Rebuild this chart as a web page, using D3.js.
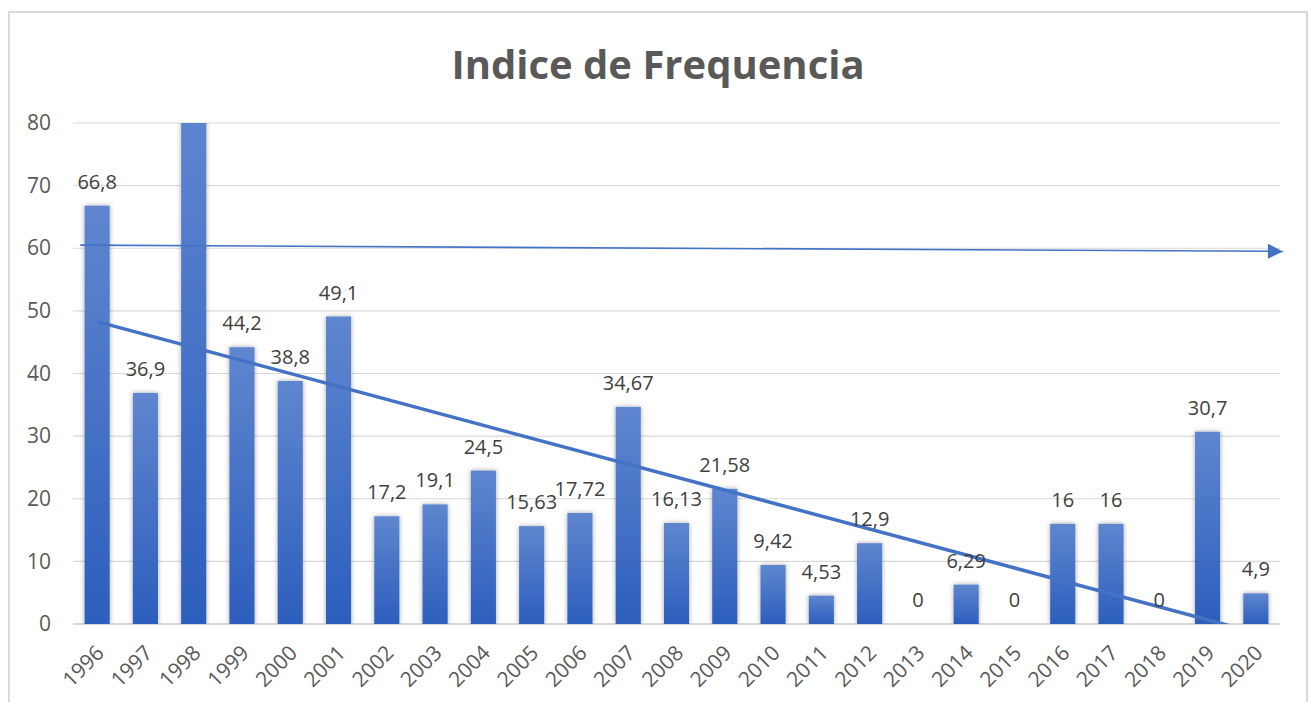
<!DOCTYPE html>
<html>
<head>
<meta charset="utf-8">
<script src="https://cdn.jsdelivr.net/npm/d3@7"></script>
<style>
  html, body { margin: 0; padding: 0; background: #fff; }
  svg { display: block; }
</style>
</head>
<body>
<div id="chart"></div>
<script>
// data (1998 is cut off at the top of the axis; value estimated)
var years = ['1996', '1997', '1998', '1999', '2000', '2001', '2002', '2003', '2004', '2005',
  '2006', '2007', '2008', '2009', '2010', '2011', '2012', '2013', '2014', '2015',
  '2016', '2017', '2018', '2019', '2020'];
var values = [66.8, 36.9, 83, 44.2, 38.8, 49.1, 17.2, 19.1, 24.5, 15.63,
  17.72, 34.67, 16.13, 21.58, 9.42, 4.53, 12.9, 0, 6.29, 0,
  16, 16, 0, 30.7, 4.9];
var yTicks = [0, 10, 20, 30, 40, 50, 60, 70, 80];
// hand-drawn arrow, in category index / value units
var arrowIdx = [0.15, 25.06];
var arrowVal = [60.5, 59.5];

var width = 1311;
var height = 702;
var margin = { top: 123, right: 31, bottom: 78, left: 73 };
var graphWidth = width - margin.left - margin.right;
var graphHeight = height - margin.top - margin.bottom;

var data = years.map(function(d, i) {
  return { key: d, val: values[i] };
});

var svg = d3
  .select('#chart')
  .append('svg')
  .attr('width', width)
  .attr('height', height)
  .attr('font-family', "'Open Sans', sans-serif");

var defs = svg.append('defs');

var grad = defs
  .append('linearGradient')
  .attr('id', 'barGrad')
  .attr('x1', 0)
  .attr('y1', 0)
  .attr('x2', 0)
  .attr('y2', 1);
grad.append('stop').attr('offset', '0%').attr('stop-color', '#5f86cf');
grad.append('stop').attr('offset', '100%').attr('stop-color', '#2c5ebd');

var shadow = defs
  .append('filter')
  .attr('id', 'barShadow')
  .attr('x', '-60%')
  .attr('y', '-10%')
  .attr('width', '220%')
  .attr('height', '120%');
shadow
  .append('feDropShadow')
  .attr('dx', 0)
  .attr('dy', 0)
  .attr('stdDeviation', 2.5)
  .attr('flood-color', '#000')
  .attr('flood-opacity', 0.35);

defs
  .append('clipPath')
  .attr('id', 'plotClip')
  .append('rect')
  .attr('x', 0)
  .attr('y', 0)
  .attr('width', graphWidth)
  .attr('height', graphHeight);

defs
  .append('marker')
  .attr('id', 'arrowHead')
  .attr('viewBox', '0 0 10 10')
  .attr('refX', 10)
  .attr('refY', 5)
  .attr('markerWidth', 16)
  .attr('markerHeight', 15)
  .attr('markerUnits', 'userSpaceOnUse')
  .attr('orient', 'auto')
  .append('path')
  .attr('d', 'M0,0L10,5L0,10Z')
  .attr('fill', '#4472c4');

// chart frame
svg
  .append('rect')
  .attr('x', 9)
  .attr('y', 12)
  .attr('width', 1298)
  .attr('height', 720)
  .attr('fill', 'none')
  .attr('stroke', '#d9d9d9')
  .attr('stroke-width', 2);

svg
  .append('text')
  .attr('x', 658)
  .attr('y', 79)
  .attr('text-anchor', 'middle')
  .attr('font-size', '40px')
  .attr('font-weight', 'bold')
  .attr('fill', '#595959')
  .text('Indice de Frequencia');

var chart = svg
  .append('g')
  .attr('transform', 'translate(' + margin.left + ',' + margin.top + ')');

var x = d3
  .scaleBand()
  .domain(years)
  .range([0, graphWidth])
  .paddingInner(0.48)
  .paddingOuter(0.24);
var xIdx = d3.scaleLinear().domain([0, years.length]).range([0, graphWidth]);
var y = d3.scaleLinear().domain([0, 80]).range([graphHeight, 0]);

// gridlines
chart
  .append('g')
  .attr('class', 'grid')
  .selectAll('line')
  .data(yTicks)
  .enter()
  .append('line')
  .attr('x1', 0)
  .attr('x2', graphWidth)
  .attr('y1', function(d) {
    return y(d);
  })
  .attr('y2', function(d) {
    return y(d);
  })
  .attr('stroke', '#d9d9d9')
  .attr('stroke-width', function(d) {
    return d === 0 ? 2 : 1.2;
  });

var yAxis = d3
  .axisLeft(y)
  .tickValues(yTicks)
  .tickSize(0)
  .tickPadding(22);
var yG = chart.append('g').attr('class', 'y axis').call(yAxis);
yG.select('.domain').remove();
yG.selectAll('text')
  .attr('font-size', '21px')
  .attr('font-family', "'Open Sans', sans-serif")
  .attr('fill', '#595959');

var xAxis = d3.axisBottom(x).tickSize(0).tickPadding(0);
var xG = chart
  .append('g')
  .attr('class', 'x axis')
  .attr('transform', 'translate(0,' + graphHeight + ')')
  .call(xAxis);
xG.select('.domain').remove();
xG.selectAll('text')
  .attr('font-size', '21px')
  .attr('font-family', "'Open Sans', sans-serif")
  .attr('fill', '#595959')
  .attr('text-anchor', 'end')
  .attr('dy', '0.35em')
  .attr('transform', 'translate(3,25) rotate(-45)');

// bars
var plot = chart.append('g').attr('clip-path', 'url(#plotClip)');
plot
  .append('g')
  .attr('class', 'bars')
  .selectAll('rect')
  .data(data.filter(function(d) {
    return d.val > 0;
  }))
  .enter()
  .append('rect')
  .attr('x', function(d) {
    return x(d.key);
  })
  .attr('width', x.bandwidth())
  .attr('y', function(d) {
    return y(d.val);
  })
  .attr('height', function(d) {
    return graphHeight - y(d.val);
  })
  .attr('fill', 'url(#barGrad)')
  .attr('filter', 'url(#barShadow)');

// linear trendline over the series
var n = values.length;
var mx = d3.mean(values, function(d, i) {
  return i + 1;
});
var my = d3.mean(values);
var sxy = d3.sum(values, function(d, i) {
  return (i + 1 - mx) * (d - my);
});
var sxx = d3.sum(values, function(d, i) {
  return (i + 1 - mx) * (i + 1 - mx);
});
var slope = sxy / sxx;
var icpt = my - slope * mx;
var trend = [1, n].map(function(i) {
  return { x: xIdx(i - 0.5), y: y(icpt + slope * i) };
});
plot
  .append('path')
  .datum(trend)
  .attr('d', d3.line().x(function(d) {
    return d.x;
  }).y(function(d) {
    return d.y;
  }))
  .attr('fill', 'none')
  .attr('stroke', '#4472c4')
  .attr('stroke-width', 3.5);

// data labels (the clipped 1998 bar shows none)
chart
  .append('g')
  .attr('class', 'labels')
  .selectAll('text')
  .data(data.filter(function(d) {
    return d.val <= 80;
  }))
  .enter()
  .append('text')
  .attr('x', function(d) {
    return x(d.key) + x.bandwidth() / 2;
  })
  .attr('y', function(d) {
    return y(d.val) - 17;
  })
  .attr('text-anchor', 'middle')
  .attr('font-size', '20px')
  .attr('fill', '#404040')
  .text(function(d) {
    return String(d.val).replace('.', ',');
  });

// thin arrow
chart
  .append('line')
  .attr('x1', xIdx(arrowIdx[0]))
  .attr('y1', y(arrowVal[0]))
  .attr('x2', xIdx(arrowIdx[1]))
  .attr('y2', y(arrowVal[1]))
  .attr('stroke', '#4472c4')
  .attr('stroke-width', 1.6)
  .attr('marker-end', 'url(#arrowHead)');
</script>
</body>
</html>
